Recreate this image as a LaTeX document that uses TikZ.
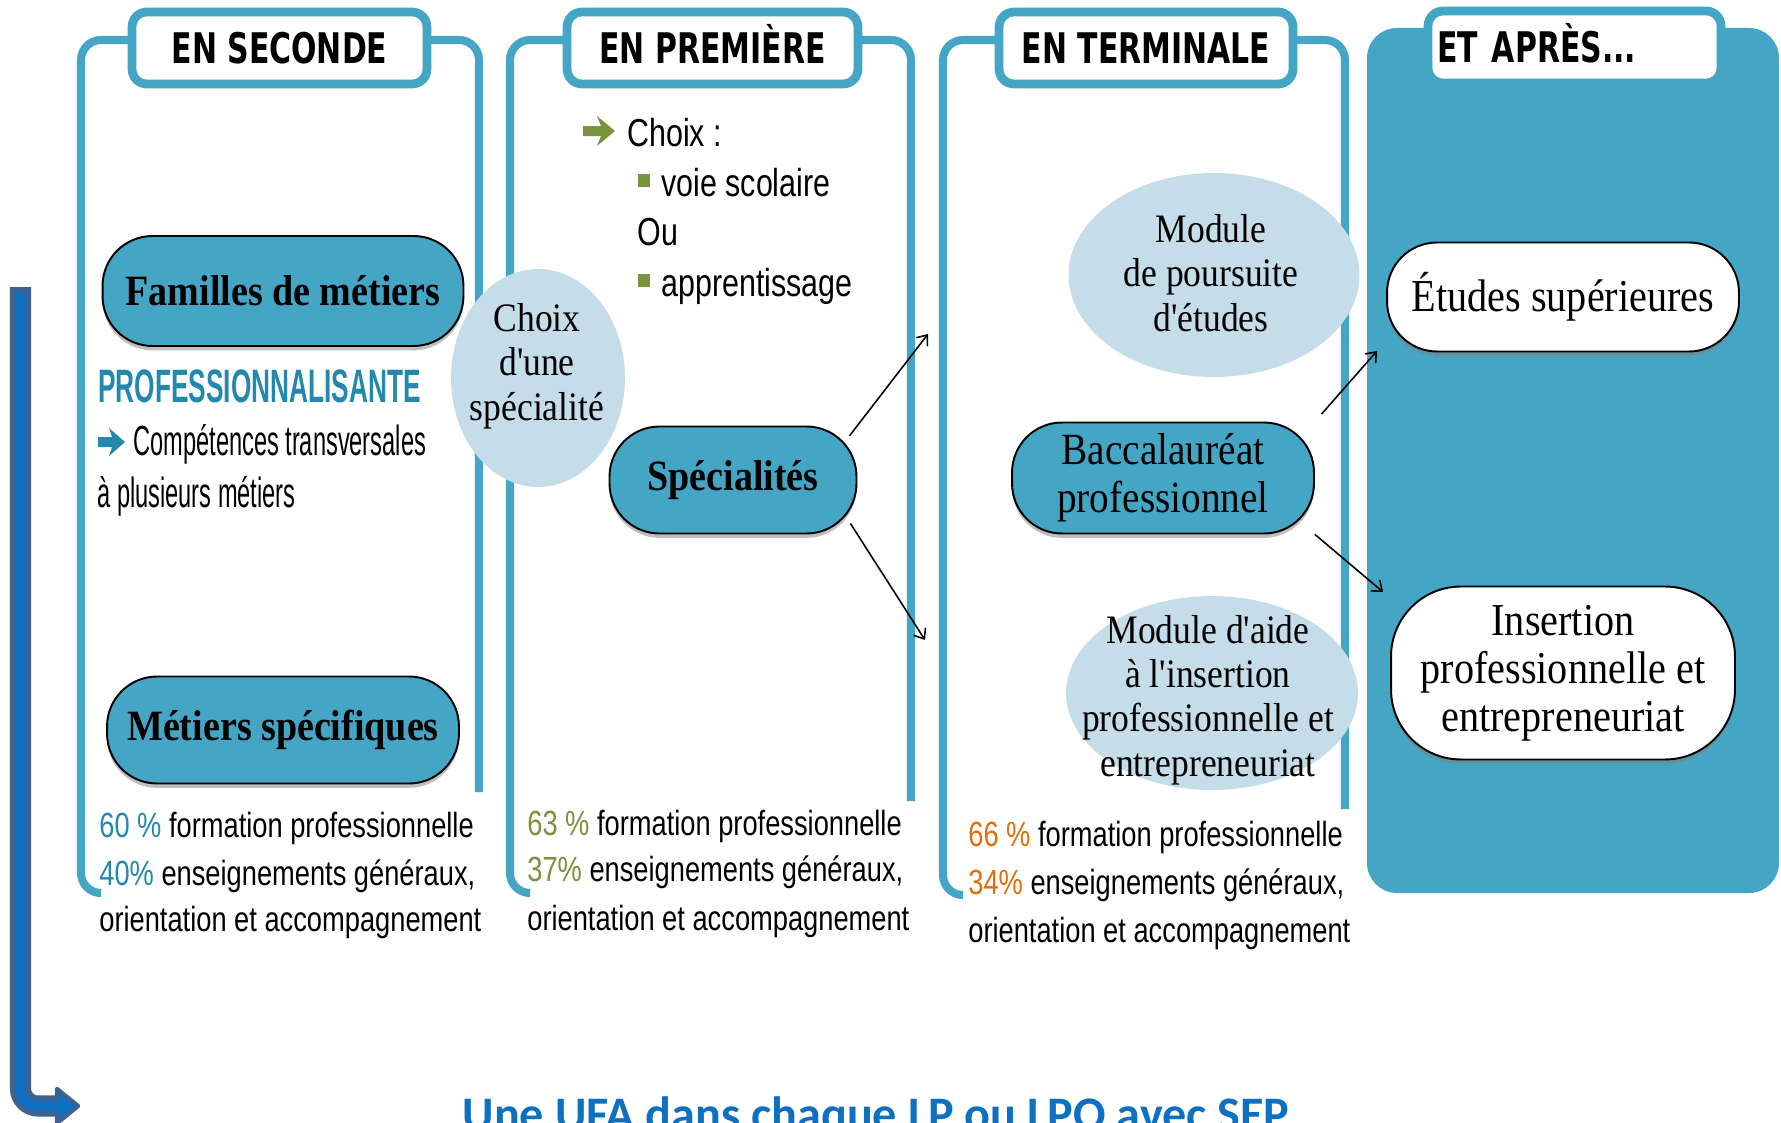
\documentclass[tikz,border=0pt]{standalone}
\usepackage{fontspec}
\usepackage{xcolor}
\usepackage{tikz}
\usetikzlibrary{shapes.geometric,shadows,arrows.meta}

\newfontfamily\hdfont{DejaVu Sans}[FakeStretch=0.71]
\newfontfamily\slabfont{Liberation Serif}[FakeStretch=0.88]
\newfontfamily\narrowfont{Liberation Sans}[FakeStretch=0.78]
\newfontfamily\condfont{Liberation Sans}[FakeStretch=0.56]
\newfontfamily\ufafont{Carlito}

\definecolor{frameblue}{HTML}{45A5C4}
\definecolor{paleblue}{HTML}{C5DDE8}
\definecolor{pctblue}{HTML}{2388AE}
\definecolor{listgreen}{HTML}{77933C}
\definecolor{pctorange}{HTML}{E46C0A}
\definecolor{ufablue}{HTML}{0E70C0}
\definecolor{ufaedge}{HTML}{3D6191}

\tikzset{
  colframe/.style={draw=frameblue, line width=4.6pt, rounded corners=0.4cm},
  hdbox/.style={draw=frameblue, fill=white, line width=5pt, rounded corners=0.3cm,
    minimum height=1.44cm, text height=0.62cm, text depth=0pt, inner sep=0pt,
    font=\hdfont\bfseries\fontsize{24}{28}\selectfont},
  pill/.style={rectangle, rounded corners=1cm, draw=black, line width=1.1pt, fill=frameblue,
    inner sep=0pt, align=center,
    drop shadow={shadow xshift=0pt, shadow yshift=-2.5pt, fill=black!50},
    font=\slabfont\fontsize{25.4}{27.3}\selectfont},
  boldpill/.style={pill, font=\slabfont\bfseries\fontsize{24.6}{28}\selectfont},
  whitepill/.style={pill, fill=white, font=\slabfont\fontsize{26}{27.3}\selectfont},
  bubble/.style={ellipse, fill=paleblue, inner sep=0pt},
  bubbletxt/.style={inner sep=0pt, align=center, font=\slabfont\fontsize{23}{25.3}\selectfont},
  condtxt/.style={inner sep=0pt, anchor=base west, font=\condfont\fontsize{24}{28}\selectfont},
  listtxt/.style={inner sep=0pt, anchor=base west, font=\narrowfont\fontsize{22.2}{26}\selectfont},
  pct/.style={inner sep=0pt, anchor=base west, font=\narrowfont\fontsize{19.9}{24}\selectfont},
  flow/.style={-{Straight Barb[length=5pt,width=8pt]}, line width=0.9pt}
}

\begin{document}
\begin{tikzpicture}[x=0.02cm, y=-0.02cm]
\useasboundingbox (0,0) rectangle (1781,1122);
\clip (0,0) rectangle (1781,1122);
\fill[white] (0,0) rectangle (1781,1122);

\fill[frameblue, rounded corners=0.6cm] (1367,28) rectangle (1779,893);

\draw[colframe] (101,893) -- (81,893) -- (81,40) -- (479,40) -- (479,792);
\draw[colframe] (530,893) -- (510,893) -- (510,40) -- (911,40) -- (911,801);
\draw[colframe] (963,895) -- (943,895) -- (943,40) -- (1345,40) -- (1345,809);

\node[hdbox, minimum width=5.9cm] (seconde) at (279.5,48) {EN SECONDE};
\node[hdbox, minimum width=5.82cm] (premiere) at (712.5,48) {EN PREMIÈRE};
\node[hdbox, minimum width=5.88cm] (terminale) at (1146,48) {EN TERMINALE};
\node[hdbox, text width=5.5cm, inner xsep=0.18cm, align=left] (apres) at (1574.5,47) {ET APRÈS...};

\node[bubble, minimum width=3.48cm, minimum height=4.36cm] (choix) at (538,378) {};
\node[bubbletxt] (choixtxt) at (537,366) {Choix\\d'une\\spécialité};
\node[bubble, minimum width=5.82cm, minimum height=4.08cm] (poursuite) at (1214,275) {};
\node[bubbletxt] (poursuitetxt) at (1211,273) {Module\\de poursuite\\d'études};
\node[bubble, minimum width=5.84cm, minimum height=3.88cm] (aide) at (1212,693) {};
\node[bubbletxt] (aidetxt) at (1208,700) {Module d'aide\\à l'insertion\\professionnelle et\\entrepreneuriat};

\node[boldpill, minimum width=7.22cm, minimum height=2.2cm] (familles) at (283,291) {Familles de métiers};
\node[boldpill, minimum width=7.04cm, minimum height=2.14cm] (metiers) at (283,730) {Métiers spécifiques};
\node[boldpill, minimum width=4.94cm, minimum height=2.14cm] (spec) at (733,480) {Spécialités};
\node[pill, minimum width=6.04cm, minimum height=2.22cm] (bac) at (1163,478) {Baccalauréat\\professionnel};
\node[whitepill, minimum width=7.04cm, minimum height=2.18cm] (etudes) at (1563,297) {Études supérieures};
\node[whitepill, rounded corners=1.4cm, minimum width=6.88cm, minimum height=3.46cm] (insertion) at (1563,673) {Insertion\\professionnelle et\\entrepreneuriat};

\coordinate (specup) at (928,334);
\coordinate (specdown) at (925,640);
\coordinate (bacup) at (1377,351);
\coordinate (bacdown) at (1383,592);
\draw[flow, shorten <=-0.26cm] (spec.north east) -- (specup);
\draw[flow, shorten <=-0.26cm] (spec.south east) -- (specdown);
\draw[flow, shorten <=0.2cm] (bac.north east) -- (bacup);
\draw[flow] (bac.south east) -- (bacdown);

\node[condtxt, text=pctblue, font=\condfont\bfseries\fontsize{26.7}{30}\selectfont] (prof) at (98,402) {PROFESSIONNALISANTE};
\fill[pctblue] (98,437) -- (112,437) -- (109,428) -- (125,442) -- (109,456) -- (112,447) -- (98,447) -- cycle;
\node[condtxt] (competences) at (133,455) {Compétences transversales};
\node[condtxt] (plusieurs) at (97,507) {à plusieurs métiers};

\fill[listgreen] (583,126) -- (601,126) -- (597,116) -- (615,131) -- (597,146) -- (601,136) -- (583,136) -- cycle;
\node[listtxt] (choixlist) at (627,146) {Choix :};
\fill[listgreen] (638,174) rectangle (650,187);
\node[listtxt] (voie) at (661,196) {voie scolaire};
\node[listtxt] (ou) at (637,245) {Ou};
\fill[listgreen] (638,274) rectangle (650,287);
\node[listtxt] (appr) at (661,296) {apprentissage};

\node[pct] (secA) at (99,837) {\textcolor{pctblue}{60 \%} formation professionnelle};
\node[pct] (secB) at (99,885) {\textcolor{pctblue}{40\%} enseignements généraux,};
\node[pct] (secC) at (99,931) {orientation et accompagnement};
\node[pct] (premA) at (527,835) {\textcolor{listgreen}{63 \%} formation professionnelle};
\node[pct] (premB) at (527,881) {\textcolor{listgreen}{37\%} enseignements généraux,};
\node[pct] (premC) at (527,930) {orientation et accompagnement};
\node[pct] (termA) at (968,846) {\textcolor{pctorange}{66 \%} formation professionnelle};
\node[pct] (termB) at (968,894) {\textcolor{pctorange}{34\%} enseignements généraux,};
\node[pct] (termC) at (968,942) {orientation et accompagnement};

\draw[ufaedge, line width=12pt, rounded corners=0.35cm] (20.5,287) -- (20.5,1106) -- (60,1106);
\filldraw[fill=ufablue, draw=ufaedge, line width=2.5pt, line join=round] (57,1089) -- (78,1106) -- (57,1123) -- cycle;
\draw[ufablue, line width=5.7pt, rounded corners=0.35cm] (20.5,292) -- (20.5,1106) -- (62,1106);
\node[font=\ufafont\bfseries\fontsize{27.4}{32}\selectfont, text=ufablue, anchor=base, inner sep=0pt] (ufa) at (876,1130) {Une UFA dans chaque LP ou LPO avec SEP};
\end{tikzpicture}
\end{document}
